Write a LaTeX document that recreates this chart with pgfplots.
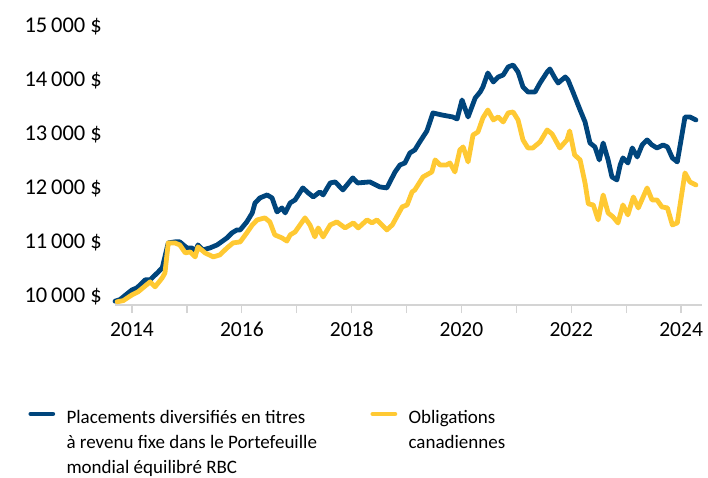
\documentclass[border=0pt]{standalone}
\usepackage{pgfplots}
\pgfplotsset{compat=1.18}
\usepackage{fontspec}
\setmainfont{Carlito}
\definecolor{rbcblue}{HTML}{00457C}
\definecolor{rbcyellow}{HTML}{FFC933}
\definecolor{axisgray}{HTML}{D4D4D4}
\begin{document}
\begin{tikzpicture}
\useasboundingbox (-115bp,-173bp) rectangle (593bp,305bp);
\begin{axis}[
  scale only axis, width=587bp, height=279bp,
  at={(0,0)}, anchor=south west,
  xmin=2013.69, xmax=2024.38, ymin=9850, ymax=15000,
  scaled y ticks=false,
  axis x line*=bottom, axis y line*=left,
  x axis line style={draw=axisgray, line width=1.3bp, -},
  y axis line style={draw=none},
  xtick={2014,2015,2016,2017,2018,2019,2020,2021,2022,2023,2024},
  xticklabels={2014,,2016,,2018,,2020,,2022,,2024},
  ytick={10000,11000,12000,13000,14000,15000},
  yticklabels={10\,000 \$,11\,000 \$,12\,000 \$,13\,000 \$,14\,000 \$,15\,000 \$},
  tick align=outside, major tick length=8bp,
  xtick style={draw=axisgray, line width=1.3bp},
  ytick style={draw=none},
  xticklabel style={anchor=north, inner sep=0pt, font=\fontsize{21.5bp}{24bp}\selectfont, yshift=-9bp},
  yticklabel style={anchor=east, inner sep=0pt, font=\fontsize{22.5bp}{26bp}\selectfont, xshift=-5bp},
  clip=false,
  legend columns=2,
  legend image code/.code={\draw[#1, line width=4.8bp, line cap=round] (0bp,10bp) -- (22bp,10bp);},
  legend style={draw=none, fill=none, inner sep=0pt, outer sep=0pt,
    at={(axis description cs:-0.1475,-0.3566)}, anchor=north west,
    font=\fontsize{19bp}{25bp}\selectfont, cells={anchor=base west},
    /tikz/every odd column/.append style={column sep=9.3bp}},
  every axis plot/.append style={line width=4.8bp, line join=round, line cap=round},
]
\addplot[rbcblue] coordinates {
(2013.69,9920) (2013.78,9950) (2014.00,10129) (2014.09,10166) (2014.24,10314) (2014.33,10314) (2014.46,10443) (2014.55,10535) (2014.66,10996) (2014.78,11015) (2014.87,11015) (2015.00,10904) (2015.09,10904) (2015.15,10830) (2015.20,10959) (2015.29,10867) (2015.42,10904) (2015.55,10959) (2015.73,11089) (2015.82,11181) (2015.91,11236) (2015.97,11236) (2016.09,11384) (2016.19,11550) (2016.24,11734) (2016.33,11827) (2016.46,11882) (2016.55,11827) (2016.64,11568) (2016.73,11642) (2016.79,11550) (2016.88,11734) (2016.97,11790) (2017.11,12011) (2017.21,11919) (2017.30,11845) (2017.42,11937) (2017.48,11882) (2017.61,12103) (2017.70,12122) (2017.84,11974) (2018.02,12196) (2018.11,12103) (2018.33,12122) (2018.51,12030) (2018.64,12011) (2018.79,12306) (2018.88,12435) (2018.97,12472) (2019.06,12657) (2019.15,12712) (2019.24,12860) (2019.37,13063) (2019.48,13395) (2019.64,13358) (2019.84,13321) (2019.92,13284) (2020.01,13635) (2020.12,13321) (2020.25,13672) (2020.34,13782) (2020.39,13875) (2020.48,14133) (2020.58,13967) (2020.67,14059) (2020.76,14096) (2020.85,14244) (2020.94,14280) (2021.03,14151) (2021.12,13875) (2021.21,13782) (2021.34,13782) (2021.43,13948) (2021.56,14151) (2021.61,14207) (2021.70,14041) (2021.76,13948) (2021.89,14059) (2021.94,14004) (2022.03,13782) (2022.16,13450) (2022.25,13229) (2022.34,12841) (2022.43,12768) (2022.51,12528) (2022.58,12841) (2022.67,12528) (2022.74,12214) (2022.83,12159) (2022.89,12435) (2022.94,12565) (2023.03,12472) (2023.11,12749) (2023.20,12583) (2023.29,12804) (2023.38,12897) (2023.47,12804) (2023.56,12749) (2023.67,12804) (2023.75,12768) (2023.84,12565) (2023.93,12491) (2024.07,13321) (2024.16,13321) (2024.27,13266)
};
\addlegendentry{\makebox[302bp][l]{\begin{tabular}[t]{@{}l@{}}Placements diversifiés en titres\\à revenu fixe dans le Portefeuille\\mondial équilibré RBC\end{tabular}}}
\addplot[rbcyellow] coordinates {
(2013.73,9910) (2013.84,9930) (2014.00,10037) (2014.11,10092) (2014.33,10277) (2014.42,10185) (2014.55,10351) (2014.60,10443) (2014.66,10996) (2014.78,10996) (2014.87,10959) (2014.97,10812) (2015.06,10830) (2015.15,10738) (2015.20,10923) (2015.33,10812) (2015.48,10738) (2015.60,10775) (2015.73,10904) (2015.84,10996) (2015.97,11015) (2016.09,11181) (2016.19,11328) (2016.28,11421) (2016.42,11458) (2016.51,11384) (2016.60,11144) (2016.73,11089) (2016.82,11030) (2016.88,11144) (2016.97,11199) (2017.15,11458) (2017.24,11328) (2017.33,11107) (2017.39,11273) (2017.48,11107) (2017.61,11328) (2017.73,11384) (2017.88,11273) (2018.03,11365) (2018.12,11273) (2018.28,11421) (2018.37,11365) (2018.46,11421) (2018.64,11236) (2018.74,11328) (2018.92,11661) (2019.01,11697) (2019.10,11937) (2019.15,11974) (2019.30,12214) (2019.46,12306) (2019.52,12528) (2019.61,12435) (2019.73,12435) (2019.79,12472) (2019.88,12306) (2019.97,12712) (2020.03,12768) (2020.12,12491) (2020.21,12989) (2020.30,13044) (2020.39,13303) (2020.48,13450) (2020.58,13266) (2020.67,13321) (2020.76,13229) (2020.85,13395) (2020.94,13413) (2021.03,13266) (2021.12,12897) (2021.21,12749) (2021.30,12749) (2021.43,12860) (2021.56,13081) (2021.65,13007) (2021.79,12749) (2021.92,12897) (2021.97,13063) (2022.06,12620) (2022.16,12528) (2022.25,12103) (2022.31,11716) (2022.40,11697) (2022.49,11421) (2022.58,11882) (2022.67,11550) (2022.76,11476) (2022.85,11365) (2022.94,11697) (2023.03,11513) (2023.13,11845) (2023.22,11642) (2023.38,12011) (2023.47,11790) (2023.56,11790) (2023.65,11661) (2023.75,11642) (2023.84,11328) (2023.93,11365) (2024.07,12288) (2024.16,12122) (2024.27,12066)
};
\addlegendentry{\begin{tabular}[t]{@{}l@{}}Obligations\\canadiennes\end{tabular}}
\end{axis}
\end{tikzpicture}
\end{document}
